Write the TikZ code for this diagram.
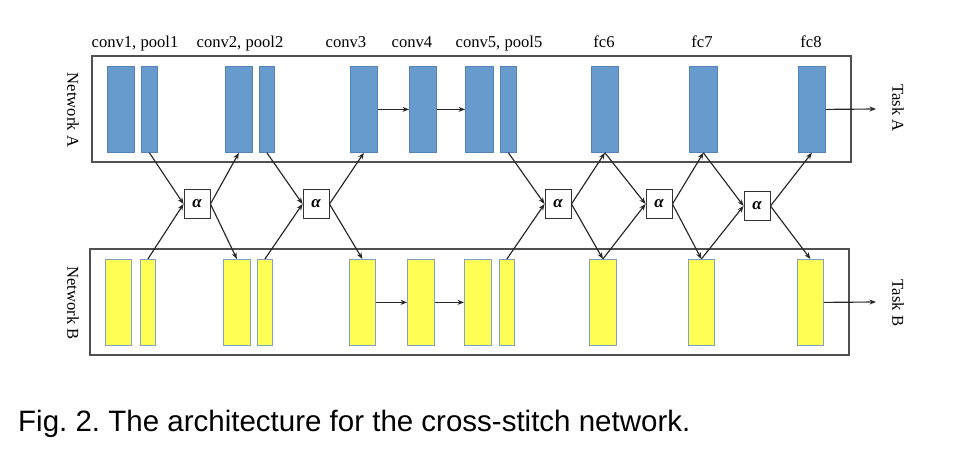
\documentclass[tikz,border=0pt]{standalone}
\usepackage{fontspec}
\setmainfont{Liberation Serif}
\newfontfamily\capfont{Liberation Sans}
\usetikzlibrary{arrows.meta}
\frenchspacing
\definecolor{blkblue}{RGB}{103,155,206}
\definecolor{blkblueedge}{RGB}{84,130,185}
\definecolor{blkyel}{RGB}{255,255,85}
\definecolor{blkyeledge}{RGB}{130,160,195}
\definecolor{frameg}{RGB}{80,80,80}
\tikzset{
  ablk/.style={draw=blkblueedge, fill=blkblue, line width=0.8pt, minimum height=86pt, inner sep=0pt, anchor=north west},
  bblk/.style={draw=blkyeledge, fill=blkyel, line width=0.8pt, minimum height=86pt, inner sep=0pt, anchor=north west},
  frame/.style={draw=frameg, line width=1.3pt},
  alph/.style={draw=black!80, fill=white, line width=0.9pt, minimum width=26pt, minimum height=29pt, inner sep=0pt, font=\fontsize{17}{20}\selectfont\bfseries\itshape},
  lbl/.style={font=\fontsize{16.6}{20}\selectfont, anchor=base, inner sep=0pt},
  side/.style={font=\fontsize{16.6}{20}\selectfont, rotate=-90, inner sep=0pt},
  arr/.style={-{Stealth[length=6.5pt,width=5pt]}, line width=1.15pt, black!85},
}
\begin{document}
\begin{tikzpicture}[x=1pt,y=-1pt]
\useasboundingbox (0,0) rectangle (972,462);
% frames
\draw[frame] (92,56) rectangle (851,162);
\draw[frame] (90,249) rectangle (849,355);
% Network A blocks
\node[ablk, minimum width=27pt] (a1) at (107,66) {};
\node[ablk, minimum width=16pt] (ap1) at (141,66) {};
\node[ablk, minimum width=27pt] (a2) at (225,66) {};
\node[ablk, minimum width=15pt] (ap2) at (259,66) {};
\node[ablk, minimum width=27pt] (a3) at (350,66) {};
\node[ablk, minimum width=27pt] (a4) at (409,66) {};
\node[ablk, minimum width=28pt] (a5) at (465,66) {};
\node[ablk, minimum width=16pt] (ap5) at (500,66) {};
\node[ablk, minimum width=27pt] (a6) at (591,66) {};
\node[ablk, minimum width=28pt] (a7) at (689,66) {};
\node[ablk, minimum width=27pt] (a8) at (798,66) {};
% Network B blocks
\node[bblk, minimum width=26pt] (b1) at (105,259) {};
\node[bblk, minimum width=15pt] (bp1) at (140,259) {};
\node[bblk, minimum width=27pt] (b2) at (223,259) {};
\node[bblk, minimum width=15pt] (bp2) at (257,259) {};
\node[bblk, minimum width=26pt] (b3) at (349,259) {};
\node[bblk, minimum width=27pt] (b4) at (407,259) {};
\node[bblk, minimum width=27pt] (b5) at (464,259) {};
\node[bblk, minimum width=15pt] (bp5) at (499,259) {};
\node[bblk, minimum width=27pt] (b6) at (589,259) {};
\node[bblk, minimum width=26pt] (b7) at (688,259) {};
\node[bblk, minimum width=26pt] (b8) at (797,259) {};
% cross-stitch units
\node[alph] (s1) at (197,204) {α};
\node[alph] (s2) at (316,204) {α};
\node[alph] (s3) at (558,204) {α};
\node[alph] (s4) at (659,204) {α};
\node[alph] (s5) at (757,206) {α};
% top labels
\node[lbl] (l1) at (135,48) {conv1, pool1};
\node[lbl] (l2) at (240,48) {conv2, pool2};
\node[lbl] (l3) at (346,48) {conv3};
\node[lbl] (l4) at (412,48) {conv4};
\node[lbl] (l5) at (499,48) {conv5, pool5};
\node[lbl] (l6) at (604,48) {fc6};
\node[lbl] (l7) at (702,48) {fc7};
\node[lbl] (l8) at (811,48) {fc8};
% side labels
\node[side] (na) at (73,110) {Network A};
\node[side] (nb) at (73,303) {Network B};
\node[side] (ta) at (898,108) {Task A};
\node[side] (tb) at (898,303) {Task B};
% sequential arrows
\draw[arr] (a3.east) -- (a4.west);
\draw[arr] (a4.east) -- (a5.west);
\draw[arr] (b3.east) -- (b4.west);
\draw[arr] (b4.east) -- (b5.west);
\coordinate (ea) at (876,109);
\coordinate (eb) at (876,302);
\draw[arr] (a8.east) -- (ea);
\draw[arr] (b8.east) -- (eb);
% cross-stitch connectors
\draw[arr] (ap1.south) -- (s1.west);
\draw[arr] (bp1.north) -- (s1.west);
\draw[arr] (s1.east) -- (a2.south);
\draw[arr] (s1.east) -- (b2.north);
\draw[arr] (ap2.south) -- (s2.west);
\draw[arr] (bp2.north) -- (s2.west);
\draw[arr] (s2.east) -- (a3.south);
\draw[arr] (s2.east) -- (b3.north);
\draw[arr] (ap5.south) -- (s3.west);
\draw[arr] (bp5.north) -- (s3.west);
\draw[arr] (s3.east) -- (a6.south);
\draw[arr] (s3.east) -- (b6.north);
\draw[arr] (a6.south) -- (s4.west);
\draw[arr] (b6.north) -- (s4.west);
\draw[arr] (s4.east) -- (a7.south);
\draw[arr] (s4.east) -- (b7.north);
\draw[arr] (a7.south) -- (s5.west);
\draw[arr] (b7.north) -- (s5.west);
\draw[arr] (s5.east) -- (a8.south);
\draw[arr] (s5.east) -- (b8.north);
% caption
\node[font=\capfont\fontsize{29.5}{34}\selectfont, anchor=base west, inner sep=0pt] (cap) at (18,431.5) {Fig. 2. The architecture for the cross-stitch network.};
\end{tikzpicture}
\end{document}
